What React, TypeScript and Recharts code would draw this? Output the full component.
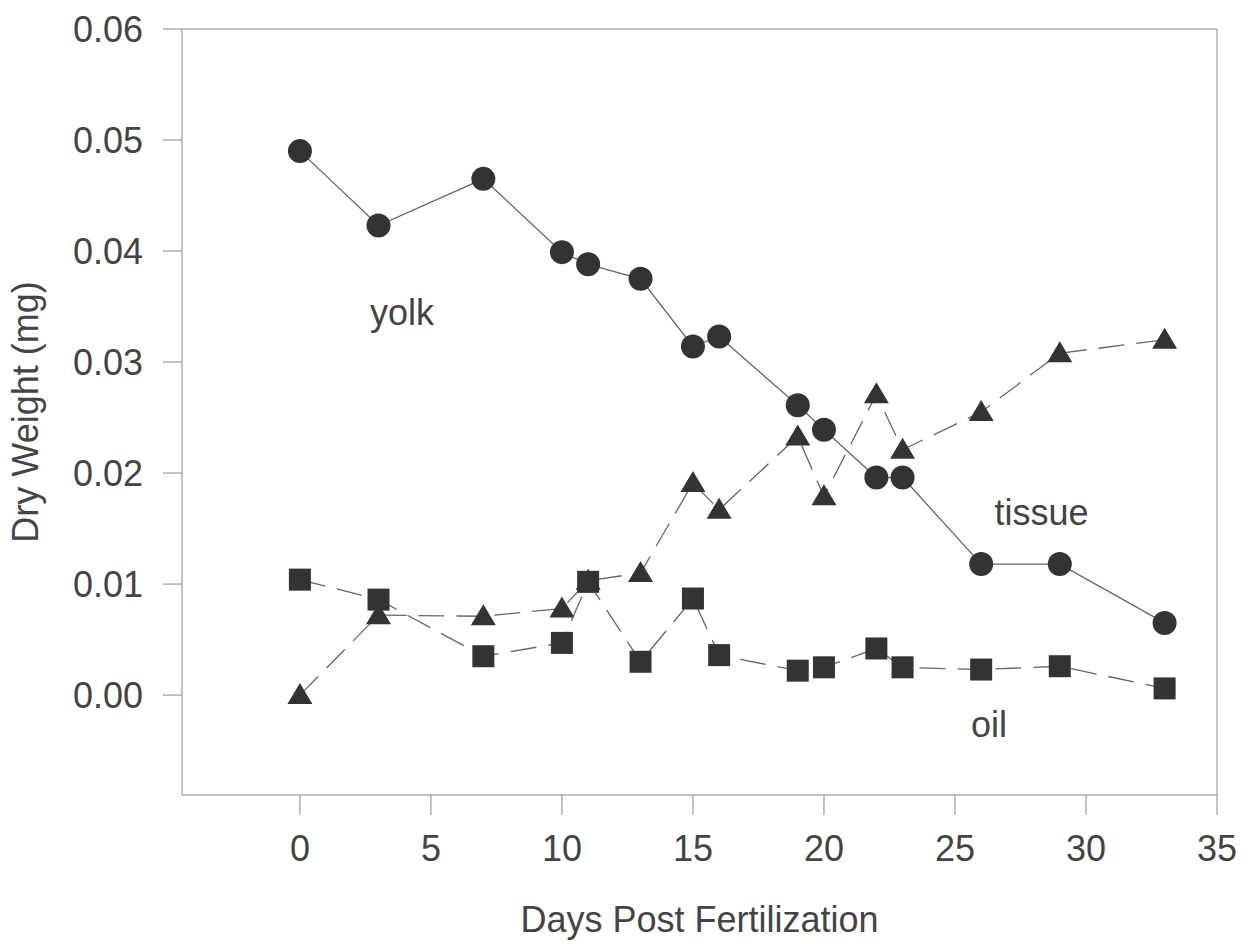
import { ReferenceDot, ReferenceLine, Scatter, ScatterChart, XAxis, YAxis } from "recharts";

const days = [0, 3, 7, 10, 11, 13, 15, 16, 19, 20, 22, 23, 26, 29, 33];
const yolk = [0.049, 0.0423, 0.0465, 0.0399, 0.0388, 0.0375, 0.0314, 0.0323, 0.0261, 0.0239, 0.0196, 0.0196, 0.0118, 0.0118, 0.0065];
const tissue = [0, 0.0072, 0.0071, 0.0078, 0.0103, 0.011, 0.0191, 0.0167, 0.0233, 0.0179, 0.0271, 0.0221, 0.0255, 0.0308, 0.032];
const oil = [0.0104, 0.0086, 0.0035, 0.0047, 0.0102, 0.003, 0.0087, 0.0036, 0.0022, 0.0025, 0.0042, 0.0025, 0.0023, 0.0026, 0.0006];

const xTicks = [0, 5, 10, 15, 20, 25, 30, 35];
const yTicks = [0, 0.01, 0.02, 0.03, 0.04, 0.05, 0.06];

const labels = [
  { text: "yolk", day: 3.9, value: 0.0345 },
  { text: "tissue", day: 28.3, value: 0.0165 },
  { text: "oil", day: 26.3, value: -0.0026 },
];

const toPoints = (values: number[]) => days.map((day, i) => ({ day, value: values[i] }));

const MARK = "#333";
const LINE = "#666";
const AXIS = "#888";
const TEXT = "#444";
const FONT = 36;

const Circle = (p: any) => <circle cx={p.cx} cy={p.cy} r={12} fill={MARK} />;
const Triangle = (p: any) => (
  <polygon points={`${p.cx - 12.5},${p.cy + 9} ${p.cx + 12.5},${p.cy + 9} ${p.cx},${p.cy - 12}`} fill={MARK} />
);
const Square = (p: any) => <rect x={p.cx - 11} y={p.cy - 11} width={22} height={22} fill={MARK} />;

const YTitle = ({ viewBox }: any) => {
  const x = viewBox.x + 30;
  const y = viewBox.y + viewBox.height / 2;
  return (
    <text x={x} y={y} transform={`rotate(-90 ${x} ${y})`} textAnchor="middle" fill={TEXT} fontSize={FONT}>
      Dry Weight (mg)
    </text>
  );
};

export default function App() {
  return (
    <ScatterChart
      width={1244}
      height={936}
      margin={{ top: 21, right: 35, left: 0, bottom: 8 }}
      style={{ fontFamily: "'Liberation Sans', Arial, sans-serif" }}
    >
      <XAxis
        type="number"
        dataKey="day"
        domain={[-4.5, 35]}
        ticks={xTicks}
        allowDataOverflow
        height={141}
        tickSize={20}
        tickMargin={20}
        stroke={AXIS}
        tick={{ fill: TEXT, fontSize: FONT }}
        label={{ value: "Days Post Fertilization", position: "insideBottom", offset: 4, fill: TEXT, fontSize: FONT }}
      />
      <YAxis
        type="number"
        dataKey="value"
        domain={[-0.009, 0.06]}
        ticks={yTicks}
        allowDataOverflow
        width={174}
        tickSize={19}
        tickMargin={20}
        stroke={AXIS}
        tickFormatter={(v: number) => v.toFixed(2)}
        tick={{ fill: TEXT, fontSize: FONT }}
        label={<YTitle />}
      />
      <ReferenceLine y={0.06} stroke={AXIS} />
      <ReferenceLine x={35} stroke={AXIS} />
      <Scatter
        data={toPoints(yolk)}
        shape={Circle}
        line={{ stroke: LINE, strokeWidth: 1.3 }}
        isAnimationActive={false}
      />
      <Scatter
        data={toPoints(tissue)}
        shape={Triangle}
        line={{ stroke: LINE, strokeWidth: 1.3, strokeDasharray: "26 12" }}
        isAnimationActive={false}
      />
      <Scatter
        data={toPoints(oil)}
        shape={Square}
        line={{ stroke: LINE, strokeWidth: 1.3, strokeDasharray: "26 12" }}
        isAnimationActive={false}
      />
      {labels.map((l) => (
        <ReferenceDot
          key={l.text}
          x={l.day}
          y={l.value}
          r={0}
          fill="none"
          stroke="none"
          label={{ value: l.text, position: "center", fill: TEXT, fontSize: FONT }}
        />
      ))}
    </ScatterChart>
  );
}
